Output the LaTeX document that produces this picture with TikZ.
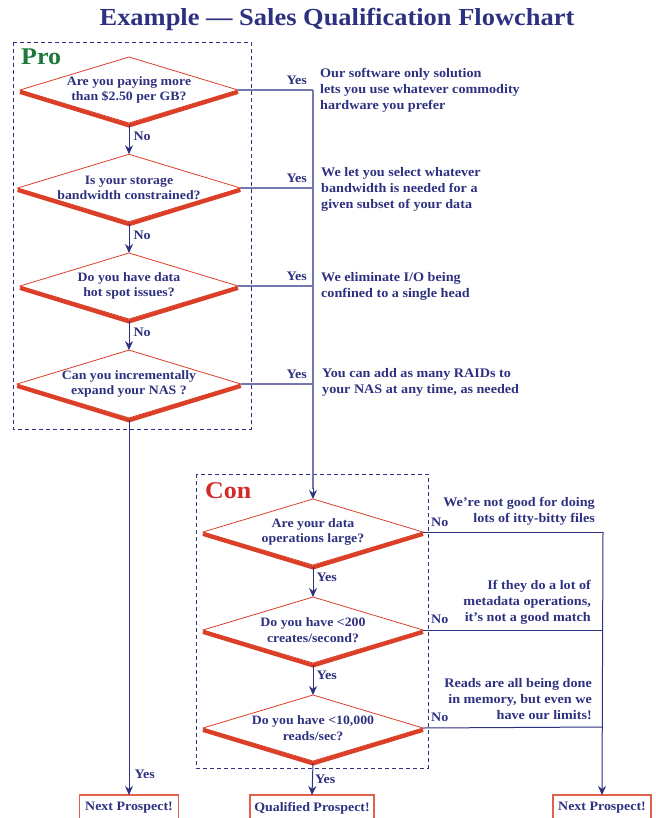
\documentclass[tikz,border=0pt]{standalone}
\usepackage{fontspec}
\setmainfont{Liberation Serif}[FakeStretch=1.08]
\usetikzlibrary{shapes.geometric,arrows.meta}
\definecolor{navy}{HTML}{2E3180}
\definecolor{lnavy}{HTML}{7478AE}
\definecolor{dred}{HTML}{DC3F27}
\definecolor{bred}{HTML}{E3604F}
\definecolor{cred}{HTML}{D42A2A}
\definecolor{pgreen}{HTML}{1D7A3A}
\newcommand{\botedge}[1]{\draw[dred, line width=4pt] ([yshift=-2pt]#1.west) -- ([yshift=-2.5pt]#1.south) -- ([yshift=-2pt]#1.east);}
\begin{document}
\begin{tikzpicture}[x=1pt,y=-1pt,
  dec/.style={diamond, draw=dred, line width=0.8pt, aspect=3.3, minimum width=218pt, minimum height=66pt, inner sep=0pt, outer sep=0pt, font=\bfseries\fontsize{12.8}{15.5}\selectfont, text=navy, align=center},
  desc/.style={inner sep=0pt, font=\bfseries\fontsize{13.1}{16}\selectfont, text=navy},
  lab/.style={inner sep=0pt, font=\bfseries\fontsize{13}{14}\selectfont, text=navy},
  endbox/.style={draw=bred, line width=1.5pt, minimum height=26pt, inner sep=0pt, outer sep=0pt, anchor=north, font=\bfseries\fontsize{12.9}{14}\selectfont, text=navy},
  grp/.style={draw=navy, line width=0.8pt, dash pattern=on 4pt off 3pt},
  arr/.style={navy, line width=1pt, -{Stealth[length=9pt,width=8pt]}},
  yline/.style={lnavy, line width=1.2pt},
  nline/.style={navy, line width=1pt}]
\useasboundingbox (0,0) rectangle (655,818);
% title
\node[font=\bfseries\fontsize{24.5}{30}\selectfont, text=navy] (title) at (337,19) {Example — Sales Qualification Flowchart};
% group boxes
\draw[grp] (13,42) rectangle (251,429);
\draw[grp] (196,474) rectangle (428,768);
\node[anchor=west, inner sep=0pt, font=\bfseries\fontsize{24}{28}\selectfont, text=pgreen] (pro) at (21,57) {Pro};
\node[anchor=west, inner sep=0pt, font=\bfseries\fontsize{24}{28}\selectfont, text=cred] (con) at (205,491) {Con};
% pro diamonds
\node[dec] (d1) at (129,90) {Are you paying more\\than \$2.50 per GB?};
\node[dec] (d2) at (129,188) {Is your storage\\bandwidth constrained?};
\node[dec] (d3) at (129,286) {Do you have data\\hot spot issues?};
\node[dec] (d4) at (129,384) {Can you incrementally\\expand your NAS ?};
\botedge{d1}\botedge{d2}\botedge{d3}\botedge{d4}
% con diamonds
\node[dec, minimum width=220pt] (d5) at (313,532) {Are your data\\operations large?};
\node[dec, minimum width=220pt] (d6) at (313,630) {Do you have <200\\creates/second?};
\node[dec, minimum width=220pt] (d7) at (313,728) {Do you have <10,000\\reads/sec?};
\botedge{d5}\botedge{d6}\botedge{d7}
% end boxes
\node[endbox, minimum width=99pt] (n1) at (129,795) {Next Prospect!};
\node[endbox, minimum width=124pt] (q) at (312,795) {Qualified Prospect!};
\node[endbox, minimum width=98pt] (n2) at (602,795) {Next Prospect!};
% pro No arrows
\draw[arr] ([yshift=-2pt]d1.south) -- (d2.north) node[lab, pos=0.4, anchor=west, xshift=4pt] {No};
\draw[arr] ([yshift=-2pt]d2.south) -- (d3.north) node[lab, pos=0.4, anchor=west, xshift=4pt] {No};
\draw[arr] ([yshift=-2pt]d3.south) -- (d4.north) node[lab, pos=0.4, anchor=west, xshift=4pt] {No};
% yes bus
\coordinate (j1) at (313,90);
\coordinate (j2) at (313,188);
\coordinate (j3) at (313,286);
\coordinate (j4) at (313,384);
\draw[yline] (d1.east) -- (j1);
\draw[yline] (d2.east) -- (j2);
\draw[yline] (d3.east) -- (j3);
\draw[yline] (d4.east) -- (j4);
\draw[yline] (j1) -- (j4);
\draw[yline] (j4) -- ([yshift=10pt]d5.north);
\draw[arr] ([yshift=11pt]d5.north) -- (d5.north);
\node[lab, anchor=south east] (y1) at (307,85) {Yes};
\node[lab, anchor=south east] (y2) at (307,183) {Yes};
\node[lab, anchor=south east] (y3) at (307,281) {Yes};
\node[lab, anchor=south east] (y4) at (307,379) {Yes};
% pro descriptions
\node[desc, anchor=north west, align=left] (t1) at (320,68) {Our software only solution\\lets you use whatever commodity\\hardware you prefer};
\node[desc, anchor=north west, align=left] (t2) at (321,167) {We let you select whatever\\bandwidth is needed for a\\given subset of your data};
\node[desc, anchor=north west, align=left] (t3) at (321,272) {We eliminate I/O being\\confined to a single head};
\node[desc, anchor=north west, align=left] (t4) at (322,368) {You can add as many RAIDs to\\your NAS at any time, as needed};
% left path
\draw[arr] ([yshift=-2pt]d4.south) -- (n1.north) node[lab, pos=0.945, anchor=west, xshift=5pt] {Yes};
% con yes arrows
\draw[arr] ([yshift=-2pt]d5.south) -- (d6.north) node[lab, pos=0.33, anchor=west, xshift=3pt] {Yes};
\draw[arr] ([yshift=-2pt]d6.south) -- (d7.north) node[lab, pos=0.33, anchor=west, xshift=3pt] {Yes};
\draw[arr] ([yshift=-2pt]d7.south) -- (q.north) node[lab, pos=0.5, anchor=west, xshift=2pt] {Yes};
% con no bus
\coordinate (k1) at (603,532);
\coordinate (k2) at (603,630);
\coordinate (k3) at (603,727);
\draw[nline] (d5.east) -- (k1);
\draw[nline] (d6.east) -- (k2);
\draw[nline] (d7.east) -- (k3);
\draw[arr] (k1) -- (n2.north);
\node[lab, anchor=south west] (no1) at (431,527) {No};
\node[lab, anchor=south west] (no2) at (431,624) {No};
\node[lab, anchor=south west] (no3) at (431,722) {No};
\node[desc, anchor=north east, align=right] (c1) at (595,497) {We’re not good for doing\\lots of itty-bitty files};
\node[desc, anchor=north east, align=right] (c2) at (591,580) {If they do a lot of\\metadata operations,\\it’s not a good match};
\node[desc, anchor=north east, align=right] (c3) at (592,678) {Reads are all being done\\in memory, but even we\\have our limits!};
\end{tikzpicture}
\end{document}
